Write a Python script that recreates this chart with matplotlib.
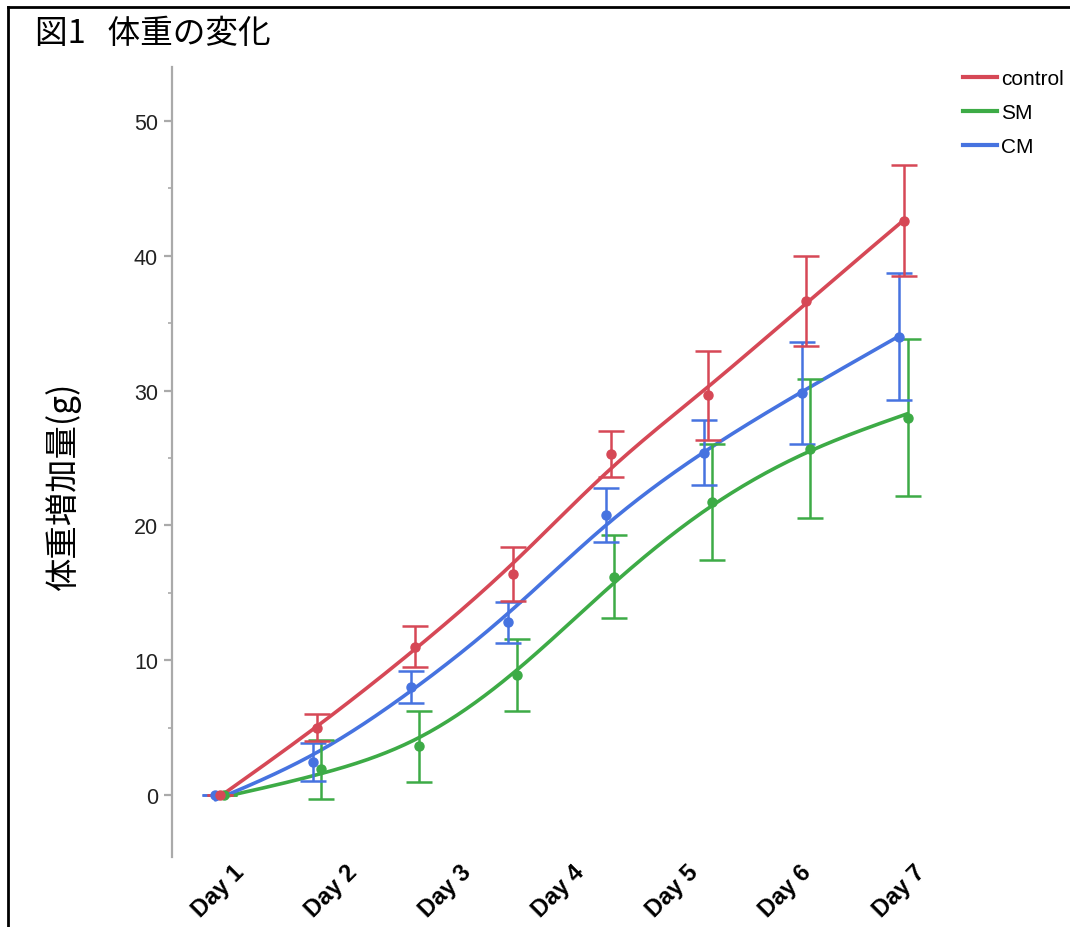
import numpy as np
import matplotlib
matplotlib.use("Agg")
import matplotlib.pyplot as plt
from matplotlib.lines import Line2D

plt.rcParams['font.family'] = ['Liberation Sans', 'Noto Sans CJK JP', 'DejaVu Sans']

# measurement points (8 samples) and group stats
days = np.arange(8)
day_labels = ["Day 1", "Day 2", "Day 3", "Day 4", "Day 5", "Day 6", "Day 7"]

control_mean = [0, 5.0, 11.0, 16.4, 25.3, 29.65, 36.65, 42.6]
control_sd = [0, 1.0, 1.5, 2.0, 1.7, 3.3, 3.35, 4.1]

sm_mean = [0, 1.9, 3.6, 8.9, 16.2, 21.7, 25.7, 28.0]
sm_sd = [0, 2.2, 2.6, 2.7, 3.1, 4.3, 5.15, 5.8]

cm_mean = [0, 2.45, 8.0, 12.8, 20.8, 25.4, 29.8, 34.0]
cm_sd = [0, 1.4, 1.2, 1.5, 2.0, 2.4, 3.8, 4.7]

groups = ["control", "SM", "CM"]
colors = {"control": "#d64856", "SM": "#3dab46", "CM": "#4673e0"}
offsets = {"control": 0.0, "SM": 0.04, "CM": -0.045}


def smooth_spline(x, y, lam, xs):
    # natural cubic smoothing spline (Reinsch form)
    x = np.asarray(x, float)
    y = np.asarray(y, float)
    n = len(x)
    h = np.diff(x)
    Q = np.zeros((n, n - 2))
    R = np.zeros((n - 2, n - 2))
    for j in range(1, n - 1):
        Q[j - 1, j - 1] = 1 / h[j - 1]
        Q[j, j - 1] = -1 / h[j - 1] - 1 / h[j]
        Q[j + 1, j - 1] = 1 / h[j]
        R[j - 1, j - 1] = (h[j - 1] + h[j]) / 3
        if j < n - 2:
            R[j - 1, j] = R[j, j - 1] = h[j] / 6
    gamma = np.linalg.solve(R + lam * Q.T @ Q, Q.T @ y)
    f = y - lam * Q @ gamma
    g = np.concatenate([[0], gamma, [0]])
    idx = np.clip(np.searchsorted(x, xs) - 1, 0, n - 2)
    x0, x1 = x[idx], x[idx + 1]
    hh = x1 - x0
    a = (x1 - xs) / hh
    b = (xs - x0) / hh
    return (a * f[idx] + b * f[idx + 1]
            + ((a ** 3 - a) * g[idx] + (b ** 3 - b) * g[idx + 1]) * hh ** 2 / 6)


fig = plt.figure(figsize=(10.7, 9.28), dpi=100)
ax = fig.add_axes([0.1607, 0.0754, 0.7486, 0.8513])

series = {
    "control": (control_mean, control_sd),
    "SM": (sm_mean, sm_sd),
    "CM": (cm_mean, cm_sd),
}

for name in ["SM", "CM", "control"]:
    mean, sd = series[name]
    x = days + offsets[name]
    xs = np.linspace(x[0], x[-1], 300)
    ax.plot(xs, smooth_spline(x, mean, 0.2, xs), color=colors[name], lw=2.6,
            solid_capstyle='round', zorder=3)
    ax.errorbar(x, mean, yerr=sd, fmt='o', color=colors[name], ms=6.5,
                elinewidth=1.8, capsize=9.7, capthick=1.8, zorder=4)

ax.set_xlim(-0.49, 7.71)
ax.set_ylim(-4.6, 54.0)

# y axis: gray line with major/minor ticks
for s in ["top", "right", "bottom"]:
    ax.spines[s].set_visible(False)
ax.spines["left"].set_color("#aaaaaa")
ax.spines["left"].set_linewidth(1.6)
ax.set_yticks([0, 10, 20, 30, 40, 50])
ax.set_yticks(np.arange(5, 55, 10), minor=True)
ax.tick_params(axis='y', which='major', length=6, width=1.6, color="#aaaaaa",
               labelsize=15.5, labelcolor="#222222", pad=4)
ax.tick_params(axis='y', which='minor', length=3, width=1.2, color="#aaaaaa")

# day labels sit on their own spacing under the plot
label_pos = np.linspace(0.13, 7.1, len(day_labels))
ax.set_xticks(label_pos)
ax.set_xticklabels(day_labels, rotation=45, ha='right', rotation_mode='anchor',
                   fontsize=17, fontweight='bold')
ax.tick_params(axis='x', length=0, pad=2)

ax.set_ylabel("体重増加量(g)", fontsize=24, family=['Noto Sans CJK JP'])
ax.yaxis.set_label_coords(-0.113, 0.471)

fig.text(35 / 1070, 1 - 34 / 928, "図1   体重の変化", fontsize=23.5,
         family=['Noto Sans CJK JP'], va='center', ha='left')

handles = [Line2D([], [], color=colors[g], lw=3) for g in groups]
fig.legend(handles, groups, loc='upper left',
           bbox_to_anchor=(955 / 1070, 1 - 62 / 928), frameon=False,
           fontsize=15, handlelength=1.6, handletextpad=0.2,
           labelspacing=0.72, borderaxespad=0)

# frame lines along the top and left edge
fig.add_artist(Line2D([8 / 1070, 1], [1 - 8 / 928, 1 - 8 / 928],
                      color='black', lw=2, transform=fig.transFigure))
fig.add_artist(Line2D([8 / 1070, 8 / 1070], [0, 1 - 8 / 928],
                      color='black', lw=2, transform=fig.transFigure))

fig.savefig("out.png", dpi=100)
